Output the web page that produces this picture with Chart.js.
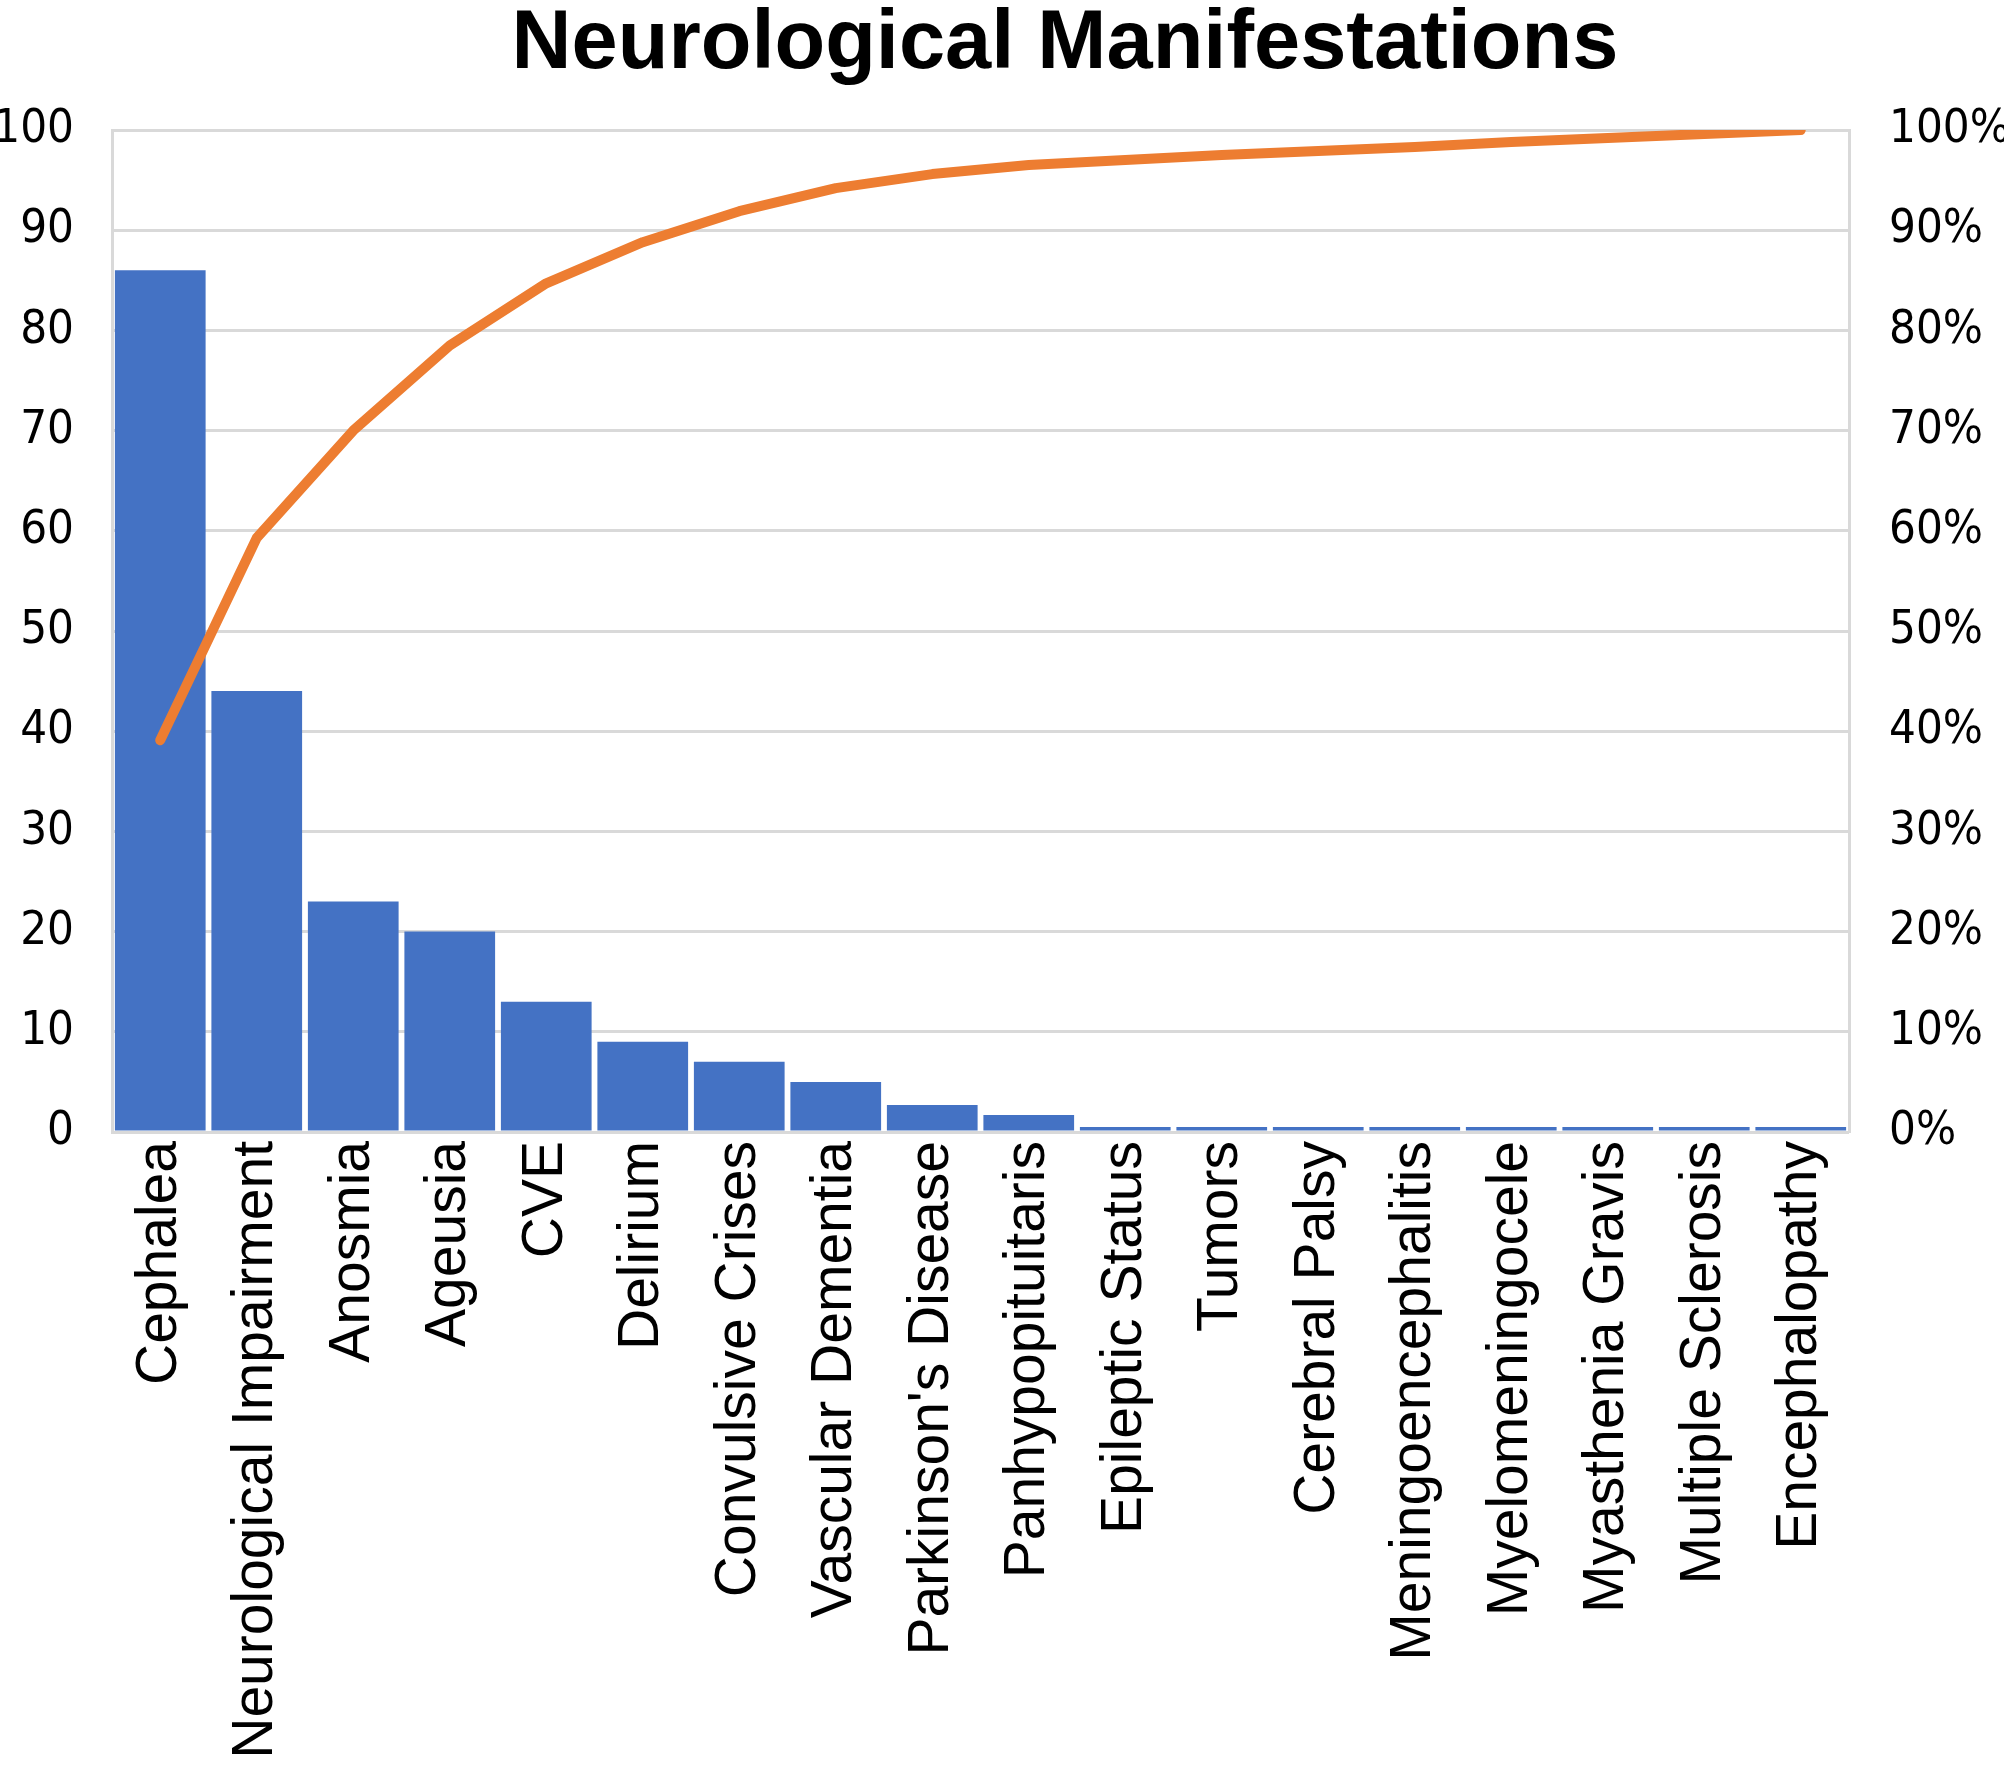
<!DOCTYPE html>
<html>
<head>
<meta charset="utf-8">
<script src="https://cdn.jsdelivr.net/npm/chart.js@4.4.1/dist/chart.umd.min.js"></script>
<style>
  html, body { margin: 0; padding: 0; background: #fff; }
  #wrap { width: 2004px; height: 1767px; }
</style>
</head>
<body>
<div id="wrap"><canvas id="chart" width="2004" height="1767"></canvas></div>
<script>
const categories = [
  "Cephalea", "Neurological Impairment", "Anosmia", "Ageusia", "CVE", "Delirium",
  "Convulsive Crises", "Vascular Dementia", "Parkinson's Disease", "Panhypopituitaris",
  "Epileptic Status", "Tumors", "Cerebral Palsy", "Meningoencephalitis",
  "Myelomeningocele", "Myasthenia Gravis", "Multiple Sclerosis", "Encephalopathy"
];
const counts = [86, 44, 23, 20, 13, 9, 7, 5, 2.7, 1.7, 0.5, 0.5, 0.5, 0.5, 0.5, 0.5, 0.5, 0.5];
const cumulativePct = [39.1, 59.3, 70.0, 78.5, 84.7, 88.8, 91.9, 94.2, 95.6, 96.5, 97.0, 97.5, 97.9, 98.3, 98.8, 99.2, 99.6, 100];

const tickFont = { family: "'DejaVu Sans Condensed', 'Liberation Sans Narrow', 'DejaVu Sans'", size: 47 };

// shift the title box so its centre sits where the original one is
const titleShift = {
  id: 'titleShift',
  afterLayout(chart) {
    if (chart.titleBlock) chart.titleBlock.left = 126;
  }
};

new Chart(document.getElementById('chart'), {
  type: 'bar',
  data: {
    labels: categories,
    datasets: [
      {
        type: 'line',
        data: cumulativePct,
        yAxisID: 'y1',
        borderColor: '#ED7D31',
        borderWidth: 10,
        borderCapStyle: 'round',
        borderJoinStyle: 'round',
        pointRadius: 0,
        tension: 0,
        fill: false,
        order: 0
      },
      {
        data: counts,
        yAxisID: 'y',
        backgroundColor: '#4472C4',
        barPercentage: 0.94,
        categoryPercentage: 1.0,
        order: 1
      }
    ]
  },
  options: {
    responsive: false,
    animation: false,
    layout: { padding: 0 },
    plugins: {
      legend: { display: false },
      tooltip: { enabled: false },
      title: {
        display: true,
        text: 'Neurological Manifestations',
        color: '#000',
        font: { family: "'Liberation Sans', Arial, sans-serif", size: 83, weight: 'bold', lineHeight: 1.0 },
        padding: { top: 4, bottom: 43 }
      }
    },
    scales: {
      x: {
        grid: { display: false, drawTicks: false },
        border: { display: false },
        ticks: {
          autoSkip: false,
          minRotation: 90,
          maxRotation: 90,
          padding: 9,
          color: '#000',
          font: { family: "'Liberation Sans', Arial, sans-serif", size: 57 }
        },
        afterFit(scale) { scale.height = 635; }
      },
      y: {
        position: 'left',
        min: 0,
        max: 100,
        grid: { color: '#d9d9d9', lineWidth: 3, drawTicks: false },
        border: { display: true, color: '#d9d9d9', width: 3 },
        ticks: { stepSize: 10, padding: 38, color: '#000', font: tickFont },
        afterFit(scale) { scale.width = 112; }
      },
      y1: {
        position: 'right',
        min: 0,
        max: 100,
        grid: { display: false, drawTicks: false },
        border: { display: true, color: '#d9d9d9', width: 3 },
        ticks: {
          stepSize: 10,
          padding: 40,
          color: '#000',
          font: tickFont,
          callback: v => v + '%'
        },
        afterFit(scale) { scale.width = 155; }
      }
    }
  },
  plugins: [titleShift]
});
</script>
</body>
</html>
